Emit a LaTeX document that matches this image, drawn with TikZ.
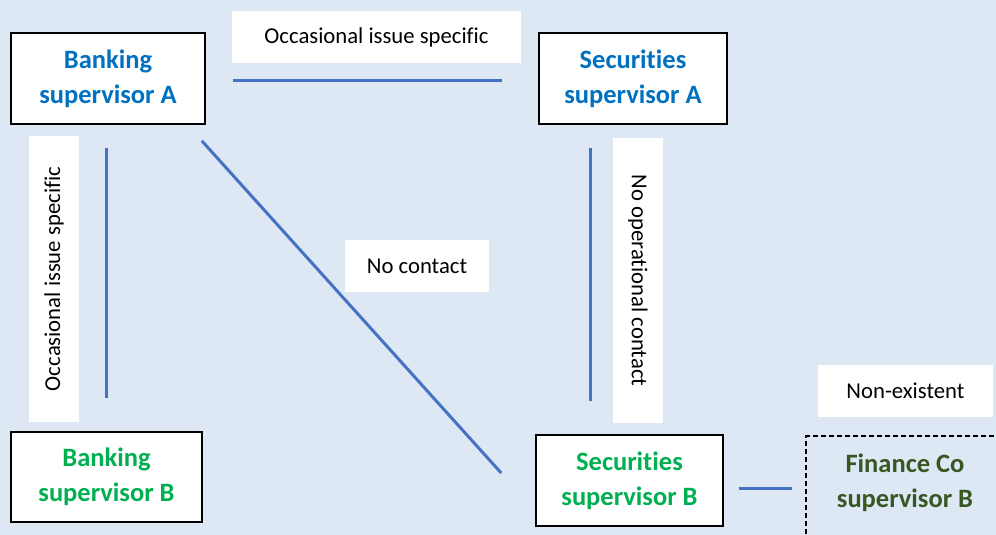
\documentclass[tikz,border=0pt]{standalone}
\usepackage{fontspec}
\setmainfont{Carlito}[Ligatures=NoCommon]
\usepackage{tikz, xcolor}
\usetikzlibrary{calc}
\definecolor{paper}{RGB}{222,232,245}
\definecolor{regA}{RGB}{0,112,192}
\definecolor{regB}{RGB}{0,176,80}
\definecolor{regC}{RGB}{56,87,35}
\definecolor{wire}{RGB}{68,114,196}
\newcommand{\cl}[2]{% contact line between two supervisors
  \draw [link] (#1) -- (#2);
  }

\begin{document}
\begin{tikzpicture}[
  x=1pt, y=-1pt,
  supervisor/.style={
    % The shape:
    rectangle,
    % The size:
    minimum width=190pt,
    minimum height=91pt,
    inner sep=0pt,
    % The border:
    line width=1.6pt,
    draw=black,
    % The filling:
    fill=white,
    % Font
    font=\bfseries\fontsize{26.5}{35}\selectfont,
    align=center
  },
  tag/.style={
    rectangle,
    fill=white,
    inner sep=0pt,
    minimum height=52pt,
    font=\fontsize{22.7}{27}\selectfont
  },
  link/.style={
    line width=3pt,
    draw=wire
  },
  ]

  \useasboundingbox (0,0) rectangle (996,535);
  \clip (0,0) rectangle (996,535);
  \fill [paper] (0,0) rectangle (996,535);

  % the supervisors
  \node (bankA) [supervisor, minimum width=194pt, text=regA] at (108,78.5) {Banking\\supervisor A};
  \node (secA)  [supervisor, minimum width=188pt, text=regA] at (633,78.5) {Securities\\supervisor A};
  \node (bankB) [supervisor, minimum width=191pt, minimum height=90pt, text=regB] at (106.5,477) {Banking\\supervisor B};
  \node (secB)  [supervisor, minimum width=187pt, text=regB] at (629.5,480.5) {Securities\\supervisor B};
  \node (finB)  [supervisor, draw=none, fill=none, minimum width=196pt, minimum height=92pt, text=regC] at (905,483) {Finance Co\\supervisor B};
  \draw [line width=1.6pt, dash pattern=on 5pt off 3pt] ($(finB.south west)+(0,20)$) |- ($(finB.north east)+(10,0)$);

  % the labels
  \node (topTag)   [tag, minimum width=289pt] at (376.5,37) {Occasional issue specific};
  \node (leftTag)  [tag, minimum width=286pt, minimum height=50pt, rotate=90] at (54,279) {Occasional issue specific};
  \node (midTag)   [tag, minimum width=144pt] at (417,266) {No contact};
  \node (rightTag) [tag, minimum width=285pt, minimum height=50pt, rotate=-90] at (638,280.5) {No operational contact};
  \node (nonTag)   [tag, minimum width=175pt] at (905.5,391) {Non-existent};

  % the contact lines
  \cl{$(bankA.east)+(27,2.5)$}{$(secA.west)+(-36,2.5)$}
  \cl{$(bankA.south)+(-2,23)$}{$(bankB.north)+(-0.5,-33)$}
  \cl{$(bankA.south east)+(-4,16)$}{$(secB.west)+(-34,-7.5)$}
  \cl{$(secA.south)+(-43,23)$}{$(secB.north)+(-39.5,-33)$}
  \cl{$(secB.east)+(15,7.5)$}{$(finB.west)+(-14,5)$}

\end{tikzpicture}
\end{document}
